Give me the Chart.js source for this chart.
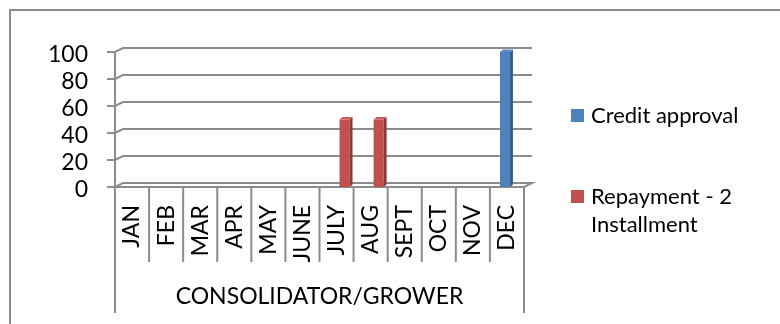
<!DOCTYPE html>
<html>
<head>
<meta charset="utf-8">
<script src="https://cdn.jsdelivr.net/npm/chart.js@4/dist/chart.umd.min.js"></script>
<style>
  html, body { margin: 0; padding: 0; background: #fff; }
  #wrap { width: 780px; height: 324px; }
</style>
</head>
<body>
<div id="wrap"><canvas id="c" width="780" height="324"></canvas></div>
<script>
// Monthly schedule for consolidator / grower
const months = ['JAN', 'FEB', 'MAR', 'APR', 'MAY', 'JUNE', 'JULY', 'AUG', 'SEPT', 'OCT', 'NOV', 'DEC'];
const creditApproval = [0, 0, 0, 0, 0, 0, 0, 0, 0, 0, 0, 100];
const repayment = [0, 0, 0, 0, 0, 0, 50, 50, 0, 0, 0, 0];
const seriesNames = ['Credit approval', 'Repayment - 2 Installment'];
const yTicks = [0, 20, 40, 60, 80, 100];
const groupTitle = 'CONSOLIDATOR/GROWER';

const FONT = 'Lato';
const AXIS_SIZE = 23;
const LEGEND_SIZE = 22;
const GRID = '#8c8c8c';
const WALL_DX = 8, WALL_DY = 4;      // depth of the back wall
const BAR_SHIFT = 3;                 // bars stand a little into the depth
const BAR_DX = 3, BAR_DY = 2.5;      // bar side / top face depth

const frame3d = {
  id: 'frame3d',
  beforeDraw(chart) {
    const { ctx, width, height } = chart;
    ctx.save();
    ctx.fillStyle = '#fff';
    ctx.fillRect(0, 0, width, height);
    ctx.strokeStyle = GRID;
    ctx.lineWidth = 2;
    ctx.strokeRect(10, 10, width + 20, height + 20);
    ctx.restore();
  },
  beforeDatasetsDraw(chart) {
    const { ctx, chartArea: a, scales: { x, y } } = chart;
    ctx.save();
    ctx.strokeStyle = GRID;
    ctx.lineWidth = 2;
    ctx.lineJoin = 'miter';
    // tick marks, wall gridlines and floor
    yTicks.forEach(v => {
      const py = y.getPixelForValue(v);
      ctx.beginPath();
      ctx.moveTo(a.left - 8, py);
      ctx.lineTo(a.left, py);
      ctx.lineTo(a.left + WALL_DX, py - WALL_DY);
      ctx.lineTo(a.right + WALL_DX, py - WALL_DY);
      if (v === 0) {
        ctx.lineTo(a.right, py);
        ctx.lineTo(a.left, py);
      }
      ctx.stroke();
    });
    // value axis line
    ctx.beginPath();
    ctx.moveTo(a.left, y.getPixelForValue(yTicks[yTicks.length - 1]));
    ctx.lineTo(a.left, a.bottom);
    ctx.stroke();
    // category separators below the floor
    const n = months.length;
    const w = (x.right - x.left) / n;
    for (let i = 0; i <= n; i++) {
      const px = x.left + i * w;
      ctx.beginPath();
      ctx.moveTo(px, a.bottom);
      ctx.lineTo(px, (i === 0 || i === n) ? 313 : 262);
      ctx.stroke();
    }
    ctx.restore();
    ctx.save();
    ctx.translate(BAR_SHIFT, 0);
  },
  afterDatasetsDraw(chart) {
    const { ctx } = chart;
    chart.data.datasets.forEach((ds, di) => {
      const meta = chart.getDatasetMeta(di);
      meta.data.forEach((bar, i) => {
        if (!ds.data[i]) return;
        const { x, y, base, width } = bar.getProps(['x', 'y', 'base', 'width'], true);
        const l = x - width / 2, r = x + width / 2;
        ctx.fillStyle = ds.sideColor;
        ctx.beginPath();
        ctx.moveTo(r, y);
        ctx.lineTo(r + BAR_DX, y - BAR_DY);
        ctx.lineTo(r + BAR_DX, base - BAR_DY);
        ctx.lineTo(r, base);
        ctx.closePath();
        ctx.fill();
        ctx.fillStyle = ds.topColor;
        ctx.beginPath();
        ctx.moveTo(l, y);
        ctx.lineTo(l + BAR_DX, y - BAR_DY);
        ctx.lineTo(r + BAR_DX, y - BAR_DY);
        ctx.lineTo(r, y);
        ctx.closePath();
        ctx.fill();
      });
    });
    ctx.restore();
  },
  afterDraw(chart) {
    // legend on the right, long names wrapped
    const { ctx } = chart;
    const boxX = 571, textX = 591, maxW = 170, lineH = 28;
    const rowTops = [116, 197];
    ctx.save();
    ctx.font = `${LEGEND_SIZE}px ${FONT}`;
    ctx.textBaseline = 'middle';
    ctx.textAlign = 'left';
    chart.data.datasets.forEach((ds, di) => {
      const cy = rowTops[di];
      ctx.fillStyle = ds.backgroundColor;
      ctx.fillRect(boxX, cy - 7, 13, 13);
      const words = ds.label.split(' ');
      const lines = [];
      let cur = '';
      words.forEach(wd => {
        const t = cur ? cur + ' ' + wd : wd;
        if (ctx.measureText(t).width > maxW && cur) { lines.push(cur); cur = wd; }
        else cur = t;
      });
      lines.push(cur);
      ctx.fillStyle = '#000';
      lines.forEach((ln, k) => ctx.fillText(ln, textX, cy + k * lineH));
    });
    ctx.restore();
  }
};

new Chart(document.getElementById('c'), {
  type: 'bar',
  data: {
    labels: months,
    datasets: [
      { label: seriesNames[0], data: creditApproval, backgroundColor: '#4F81BD', sideColor: '#385D8A', topColor: '#5B8BC6' },
      { label: seriesNames[1], data: repayment, backgroundColor: '#C0504D', sideColor: '#8C3A38', topColor: '#C95C59' }
    ]
  },
  options: {
    responsive: false,
    animation: false,
    devicePixelRatio: 1,
    categoryPercentage: 0.587,
    barPercentage: 1.0,
    layout: { padding: { left: 0, top: 52, right: 256, bottom: 0 } },
    plugins: { legend: { display: false }, tooltip: { enabled: false } },
    scales: {
      x: {
        offset: true,
        grid: { display: false, drawTicks: false },
        border: { display: false },
        ticks: {
          autoSkip: false, minRotation: 90, maxRotation: 90, padding: 18,
          color: '#000', font: { family: FONT, size: AXIS_SIZE }
        },
        title: {
          display: true, text: groupTitle, color: '#000',
          font: { family: FONT, size: AXIS_SIZE }, padding: { top: 0, bottom: 14 }
        },
        afterFit(s) { s.height = 137; }
      },
      y: {
        min: 0, max: 100,
        grid: { display: false, drawTicks: false },
        border: { display: false },
        ticks: {
          autoSkip: false, stepSize: 20, padding: 27, labelOffset: 3, color: '#000',
          font: { family: FONT, size: AXIS_SIZE }
        },
        afterFit(s) { s.width = 115; }
      }
    }
  },
  plugins: [frame3d]
});
</script>
</body>
</html>
